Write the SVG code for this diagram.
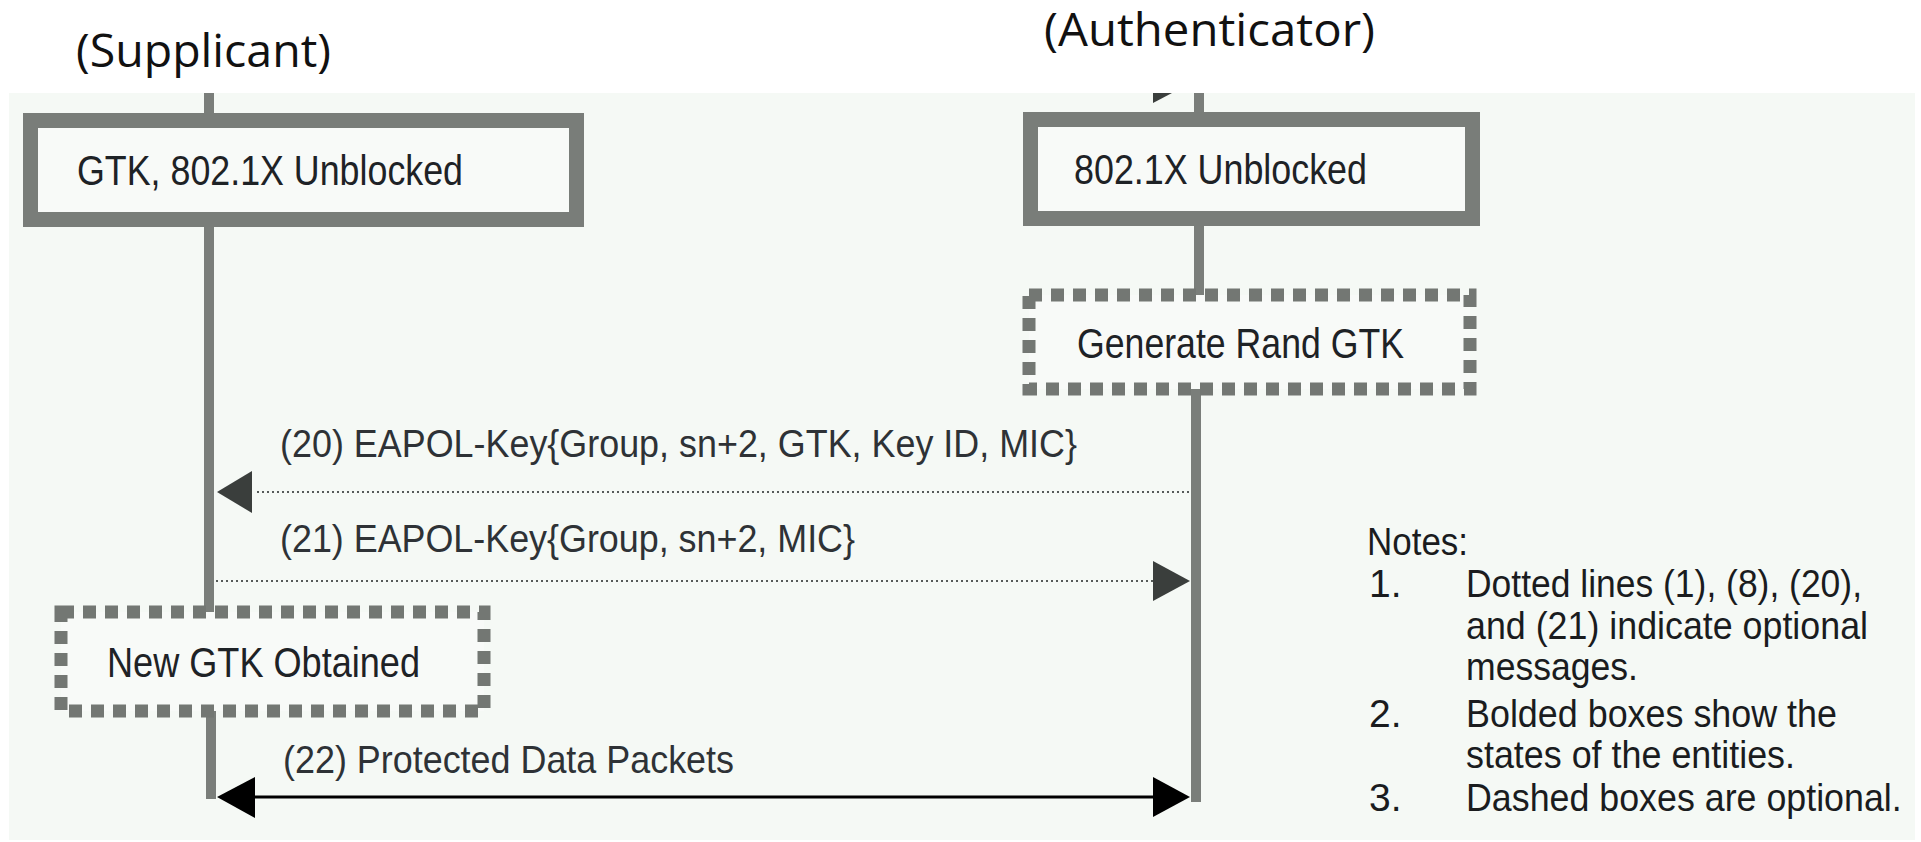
<svg xmlns="http://www.w3.org/2000/svg" width="1921" height="842" viewBox="0 0 1921 842">
<style>
.hdr{font-family:"Open Sans","Noto Sans",sans-serif;font-size:46px;fill:#111;}
.lbl{font-family:"Liberation Sans",Arial,sans-serif;font-size:43px;fill:#1e2226;}
.msg{font-family:"Liberation Sans",Arial,sans-serif;font-size:39px;fill:#2e3236;}
.note{font-family:"Liberation Sans",Arial,sans-serif;font-size:39px;fill:#1a1c1e;}
.bold{fill:#f8faf8;stroke:#797d79;stroke-width:15;}
.dash{fill:#f8faf8;stroke:#737773;stroke-width:13;stroke-dasharray:13 9;}
.life{stroke:#7a7e7a;stroke-width:10;fill:none;}
.dot{stroke:#555a58;stroke-width:2.2;stroke-dasharray:2 3;fill:none;}
.solid{stroke:#000;stroke-width:3;fill:none;}
.ahg{fill:#3a3e3c;}
.ahb{fill:#000;}
</style>
<rect x="0" y="0" width="1921" height="842" fill="#ffffff"/>
<rect x="9" y="93" width="1906" height="747" fill="#f5f9f5"/>
<text class="hdr" x="76" y="67" textLength="255" lengthAdjust="spacingAndGlyphs">(Supplicant)</text>
<text class="hdr" x="1044" y="46" textLength="331" lengthAdjust="spacingAndGlyphs">(Authenticator)</text>
<g id="connectors">
<line class="life" x1="209" y1="93" x2="209" y2="114"/>
<line class="life" x1="209" y1="226" x2="209" y2="612"/>
<line class="life" x1="211" y1="711" x2="211" y2="799"/>
<line class="life" x1="1199" y1="93" x2="1199" y2="114"/>
<line class="life" x1="1199" y1="226" x2="1199" y2="295"/>
<line class="life" x1="1196" y1="389" x2="1196" y2="802"/>
<polygon class="ahg" points="1153,93 1172,93 1153,103"/>
<line class="dot" x1="257" y1="492" x2="1191" y2="492"/>
<polygon class="ahg" points="217,492 252,471 252,513"/>
<text class="msg" x="280" y="457" textLength="797" lengthAdjust="spacingAndGlyphs">(20) EAPOL-Key{Group, sn+2, GTK, Key ID, MIC}</text>
<line class="dot" x1="216" y1="581" x2="1153" y2="581"/>
<polygon class="ahg" points="1190,581 1153,561 1153,601"/>
<text class="msg" x="280" y="552" textLength="575" lengthAdjust="spacingAndGlyphs">(21) EAPOL-Key{Group, sn+2, MIC}</text>
<line class="solid" x1="250" y1="797" x2="1160" y2="797"/>
<polygon class="ahb" points="217,797 255,777 255,818"/>
<polygon class="ahb" points="1190,797 1153,777 1153,817"/>
<text class="msg" x="283" y="773" textLength="451" lengthAdjust="spacingAndGlyphs">(22) Protected Data Packets</text>
</g>
<g id="supplicant-state">
<rect class="bold" x="30.5" y="120.5" width="546" height="99"/>
<text class="lbl" x="77" y="185" textLength="386" lengthAdjust="spacingAndGlyphs">GTK, 802.1X Unblocked</text>
</g>
<g id="authenticator-state">
<rect class="bold" x="1030.5" y="119.5" width="442" height="99"/>
<text class="lbl" x="1074" y="184" textLength="293" lengthAdjust="spacingAndGlyphs">802.1X Unblocked</text>
</g>
<g id="generate-gtk">
<rect class="dash" x="1029" y="295" width="441" height="94"/>
<text class="lbl" x="1077" y="358" textLength="327" lengthAdjust="spacingAndGlyphs">Generate Rand GTK</text>
</g>
<g id="new-gtk">
<rect class="dash" x="61" y="612" width="423" height="99"/>
<text class="lbl" x="107" y="677" textLength="313" lengthAdjust="spacingAndGlyphs">New GTK Obtained</text>
</g>
<g id="notes">
<text class="note" x="1367" y="555" textLength="101" lengthAdjust="spacingAndGlyphs">Notes:</text>
<text class="note" x="1369" y="597">1.</text>
<text class="note" x="1466" y="597" textLength="396" lengthAdjust="spacingAndGlyphs">Dotted lines (1), (8), (20),</text>
<text class="note" x="1466" y="639" textLength="402" lengthAdjust="spacingAndGlyphs">and (21) indicate optional</text>
<text class="note" x="1466" y="680" textLength="172" lengthAdjust="spacingAndGlyphs">messages.</text>
<text class="note" x="1369" y="727">2.</text>
<text class="note" x="1466" y="727" textLength="371" lengthAdjust="spacingAndGlyphs">Bolded boxes show the</text>
<text class="note" x="1466" y="768" textLength="329" lengthAdjust="spacingAndGlyphs">states of the entities.</text>
<text class="note" x="1369" y="811">3.</text>
<text class="note" transform="translate(1466,811) scale(0.918,1)" x="0" y="0">Dashed boxes are optional.</text>
</g>
</svg>
